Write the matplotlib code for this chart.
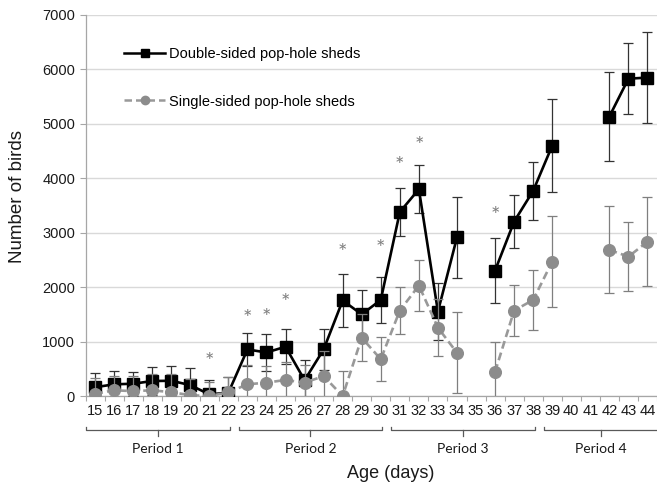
import numpy as np
import matplotlib.pyplot as plt
from matplotlib import transforms
from matplotlib.lines import Line2D

nan = np.nan

# Age of the flock in days (one category per day)
days = list(range(15, 45))
day_labels = [str(d) for d in days]

# Mean number of birds outside, with error bars
double_sided = [160, 215, 225, 275, 280, 200, 30, 60, 855, 800, 905, 290, 855, 1755,
                1500, 1765, 3380, 3800, 1550, 2915, nan, 2305, 3205, 3770, 4600,
                nan, nan, 5135, 5830, 5850]
double_err = [270, 240, 225, 250, 270, 320, 265, 295, 310, 335, 325, 380, 370, 480,
              440, 415, 440, 435, 530, 750, nan, 590, 480, 535, 860,
              nan, nan, 810, 650, 835]
single_sided = [40, 105, 90, 105, 70, 15, 0, 65, 215, 245, 295, 245, 365, 0,
                1070, 675, 1570, 2030, 1255, 795, nan, 445, 1570, 1765, 2470,
                nan, nan, 2685, 2560, 2835]
single_err = [290, 260, 270, 305, 330, 300, 250, 290, 350, 310, 330, 330, 460, 465,
              430, 400, 430, 470, 520, 740, nan, 550, 470, 545, 835,
              nan, nan, 800, 640, 820]

# Days with a significant difference between shed types
sig_days = [21, 23, 24, 25, 28, 30, 31, 32, 36]
sig_heights = [630, 1415, 1430, 1715, 2635, 2700, 4230, 4585, 3310]

# Study periods (first and last day of each)
periods = ["Period 1", "Period 2", "Period 3", "Period 4"]
period_first = [15, 23, 31, 39]
period_last = [22, 30, 38, 44]

y_ticks = [0, 1000, 2000, 3000, 4000, 5000, 6000, 7000]

W, H = 657, 484
fig = plt.figure(figsize=(W / 100, H / 100), dpi=100)
ax = fig.add_axes([85.5 / W, 1 - 396 / H, 1 - 85.5 / W, 381 / H])

x = np.array(days, dtype=float)
black = "#000000"
grey = "#8c8c8c"

# Double-sided sheds
ax.errorbar(x, double_sided, yerr=double_err, fmt="none", ecolor="#333333",
            elinewidth=0.9, capsize=3.6, capthick=0.9, zorder=3)
ax.plot(x, double_sided, color=black, lw=1.9, marker="s", markersize=8.7,
        markerfacecolor=black, markeredgecolor=black, zorder=4)

# Single-sided sheds
ax.errorbar(x, single_sided, yerr=single_err, fmt="none", ecolor="#7f7f7f",
            elinewidth=0.9, capsize=3.6, capthick=0.9, zorder=5)
ax.plot(x, single_sided, color="#999999", lw=1.9, linestyle=(0, (3.0, 1.6)),
        marker="o", markersize=8.4, markerfacecolor=grey, markeredgecolor=grey,
        zorder=6)

# Significance markers
for d, h in zip(sig_days, sig_heights):
    ax.text(d, h, "*", ha="center", va="center", fontsize=16, color="#808080",
            family="Lato", zorder=7)

ax.set_xlim(14.5, 44.5)
ax.set_ylim(0, 7000)
ax.set_yticks(y_ticks)
ax.set_yticklabels([str(v) for v in y_ticks], family="Liberation Sans",
                   fontsize=10.5, color="#1a1a1a")
ax.set_xticks(x)
ax.set_xticklabels(day_labels, family="Liberation Sans", fontsize=10.5,
                   color="#1a1a1a")
ax.set_xticks(np.arange(14.5, 45.0, 1.0), minor=True)
ax.tick_params(axis="x", which="major", length=0, pad=6)
ax.tick_params(axis="x", which="minor", length=3.5, color="#a6a6a6", width=0.8)
ax.tick_params(axis="y", length=4.5, color="#a6a6a6", width=0.8, pad=3)

ax.grid(axis="y", color="#d9d9d9", lw=1.0)
ax.set_axisbelow(True)
for side in ("top", "right"):
    ax.spines[side].set_visible(False)
for side in ("left", "bottom"):
    ax.spines[side].set_color("#a6a6a6")
    ax.spines[side].set_linewidth(0.9)

# Period brackets under the day labels
trans = transforms.blended_transform_factory(ax.transData, ax.transAxes)
y_line, y_end, y_mid, y_lab = -0.0892, -0.081, -0.106, -0.139
for i, name in enumerate(periods):
    x0 = period_first[i] - 0.45
    x1 = period_last[i] + (0.55 if i == len(periods) - 1 else 0.07)
    ax.plot([x0, x0, x1, x1], [y_end, y_line, y_line, y_end], transform=trans,
            clip_on=False, color="#595959", lw=0.9)
    xm = (x0 + x1) / 2
    ax.plot([xm, xm], [y_line, y_mid], transform=trans, clip_on=False,
            color="#595959", lw=0.9)
    ax.text(xm, y_lab, name, transform=trans, ha="center", va="center",
            fontsize=10, family="Lato", color="#1a1a1a")

fig.text(391 / W, 1 - 474 / H, "Age (days)", ha="center", va="center",
         fontsize=13, family="Liberation Sans", color="#1a1a1a")
fig.text(18 / W, 1 - 197 / H, "Number of birds", ha="center", va="center",
         rotation=90, fontsize=13.5, family="Liberation Sans", color="#1a1a1a")

handles = [
    Line2D([], [], color=black, lw=1.8, marker="s", markersize=6,
           markerfacecolor=black, markeredgecolor=black),
    Line2D([], [], color="#999999", lw=1.8, linestyle=(0, (3.0, 1.6)),
           marker="o", markersize=6, markerfacecolor=grey, markeredgecolor=grey),
]
ax.legend(handles, ["Double-sided pop-hole sheds", "Single-sided pop-hole sheds"],
          loc="upper left", bbox_to_anchor=(0.055, 0.935), frameon=False,
          handlelength=2.8, handletextpad=0.3, labelspacing=2.3, borderpad=0,
          prop={"family": "Liberation Sans", "size": 10.5})

fig.savefig("out.png", dpi=100)
